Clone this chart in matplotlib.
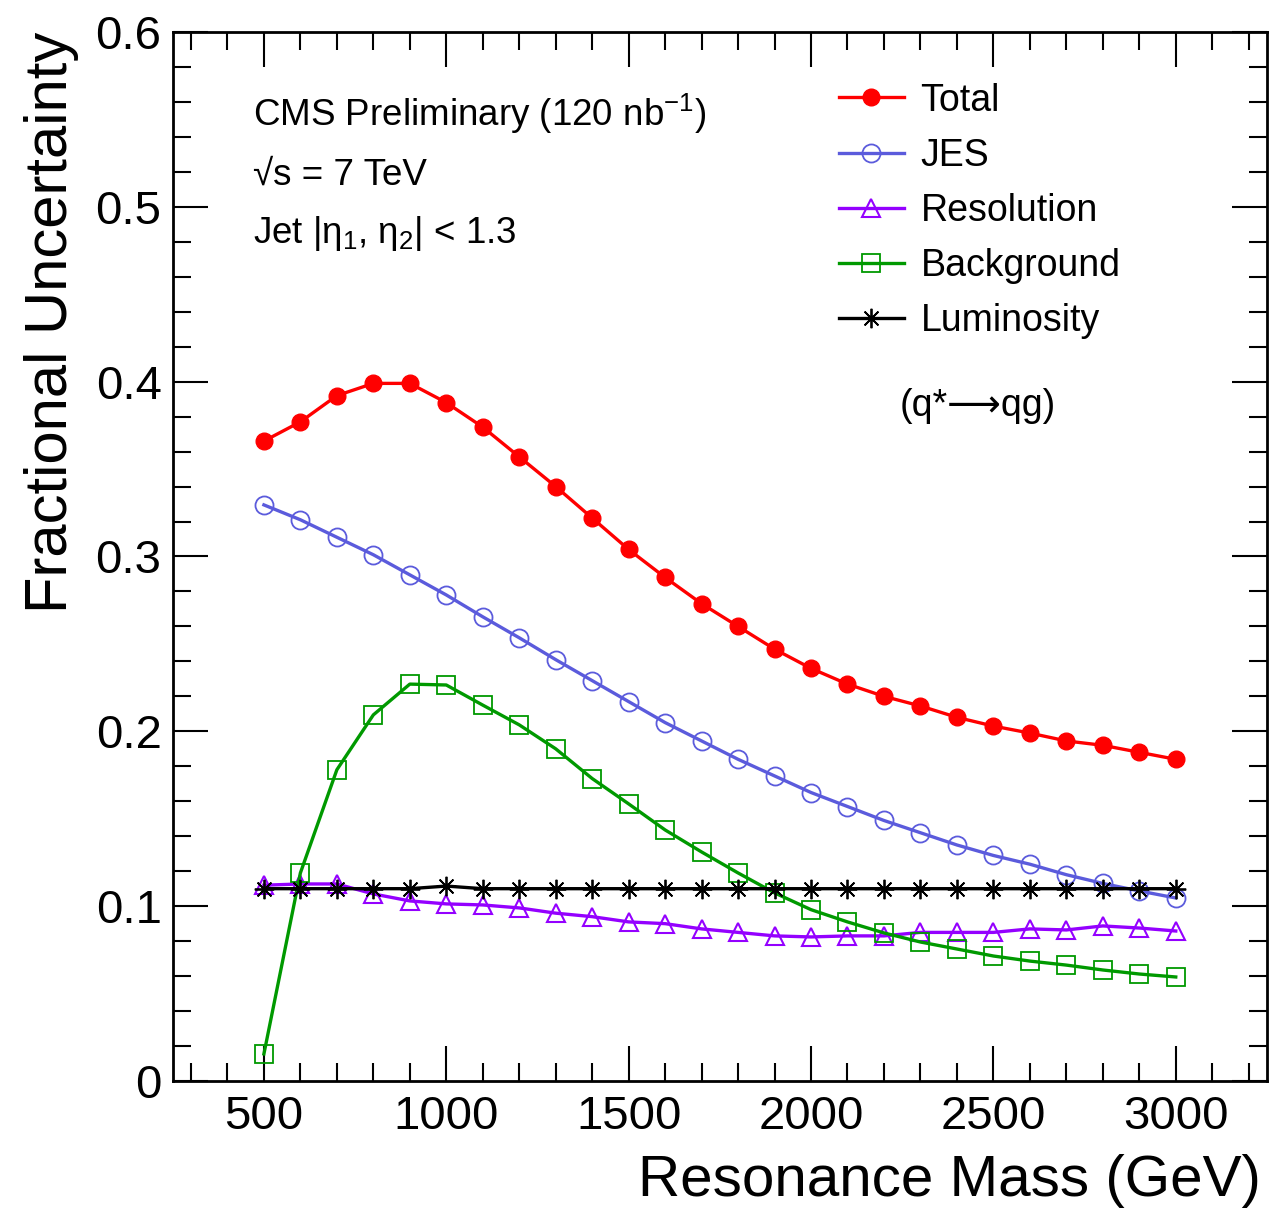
import numpy as np
import matplotlib
matplotlib.use("Agg")
import matplotlib.pyplot as plt

plt.rcParams['font.family'] = ['Liberation Sans', 'DejaVu Sans']
plt.rcParams['mathtext.fontset'] = 'custom'
plt.rcParams['mathtext.rm'] = 'Liberation Sans'
plt.rcParams['mathtext.it'] = 'Liberation Sans'
plt.rcParams['mathtext.bf'] = 'Liberation Sans:bold'

# resonance mass points (GeV)
mass = [500, 600, 700, 800, 900, 1000, 1100, 1200, 1300, 1400, 1500, 1600, 1700,
        1800, 1900, 2000, 2100, 2200, 2300, 2400, 2500, 2600, 2700, 2800, 2900, 3000]

total = [0.366, 0.377, 0.392, 0.399, 0.399, 0.388, 0.374, 0.357, 0.340, 0.322, 0.304,
         0.288, 0.273, 0.260, 0.247, 0.236, 0.227, 0.220, 0.2145, 0.208, 0.203, 0.199,
         0.1945, 0.192, 0.188, 0.184]
jes = [0.3295, 0.321, 0.311, 0.301, 0.2895, 0.278, 0.2655, 0.2535, 0.241, 0.229, 0.217,
       0.205, 0.1945, 0.184, 0.1745, 0.165, 0.157, 0.149, 0.142, 0.135, 0.129, 0.124,
       0.118, 0.113, 0.1087, 0.1047]
resolution = [0.112, 0.1127, 0.1127, 0.107, 0.103, 0.1013, 0.1007, 0.099, 0.096, 0.094,
              0.091, 0.090, 0.087, 0.085, 0.083, 0.0824, 0.083, 0.083, 0.085, 0.085,
              0.085, 0.087, 0.0864, 0.0887, 0.0875, 0.0858]
background = [0.0155, 0.119, 0.178, 0.2094, 0.227, 0.2265, 0.215, 0.2037, 0.190, 0.173,
              0.1585, 0.1436, 0.131, 0.119, 0.1076, 0.098, 0.091, 0.0847, 0.0795, 0.0755,
              0.0715, 0.0686, 0.0663, 0.0635, 0.0612, 0.0595]
lumi = [0.11, 0.11, 0.11, 0.11, 0.11, 0.1115, 0.11, 0.11, 0.11, 0.11, 0.11, 0.11, 0.11,
        0.11, 0.11, 0.11, 0.11, 0.11, 0.11, 0.11, 0.11, 0.11, 0.11, 0.11, 0.11, 0.11]

fig = plt.figure(figsize=(12.7, 12.1), dpi=100)
ax = fig.add_axes([0.136, 0.1066, 0.8616, 0.867])

lw = 2.4
ax.plot(mass, total, color='#ff0000', lw=lw, marker='o', ms=12, mfc='#ff0000', mec='#ff0000',
        label='Total', zorder=5)
ax.plot(mass, jes, color='#5b5bdc', lw=lw, marker='o', ms=13, mfc='none', mec='#5b5bdc',
        mew=1.3, label='JES', zorder=4)
ax.plot(mass, resolution, color='#9400ff', lw=lw, marker='^', ms=13, mfc='none', mec='#9400ff',
        mew=1.5, label='Resolution', zorder=3)
ax.plot(mass, background, color='#009900', lw=lw, marker='s', ms=12.5, mfc='none', mec='#009900',
        mew=1.3, label='Background', zorder=3)
ax.plot(mass, lumi, color='black', lw=lw, marker=(8, 2, 0), ms=14, mew=1.3,
        label='Luminosity', zorder=4)

ax.set_xlim(250, 3250)
ax.set_ylim(0, 0.6)
ax.set_xticks([500, 1000, 1500, 2000, 2500, 3000])
ax.set_xticks(np.arange(300, 3250, 100), minor=True)
ax.set_yticks([0, 0.1, 0.2, 0.3, 0.4, 0.5, 0.6])
ax.set_yticklabels(['0', '0.1', '0.2', '0.3', '0.4', '0.5', '0.6'])
ax.set_yticks(np.arange(0, 0.601, 0.02), minor=True)

ax.tick_params(which='both', direction='in', top=True, right=True, width=1.5)
ax.tick_params(which='major', length=25)
ax.tick_params(which='minor', length=13)
ax.tick_params(axis='x', which='major', labelsize=34, pad=10)
ax.tick_params(axis='y', which='major', labelsize=34, pad=8)
for s in ax.spines.values():
    s.set_linewidth(2)

ax.set_xlabel('Resonance Mass (GeV)', fontsize=42, ha='right')
ax.xaxis.set_label_coords(0.994, -0.07)
ax.set_ylabel('Fractional Uncertainty', fontsize=43, loc='top', labelpad=12)

ax.text(0.073, 0.922, r'CMS Preliminary (120 nb$^{\mathregular{-1}}$)', transform=ax.transAxes,
        fontsize=26.5, va='center')
ax.text(0.073, 0.863, '\u221as = 7 TeV', transform=ax.transAxes, fontsize=26.5, va='center')
ax.text(0.073, 0.808, r'Jet |$\eta_{1}$, $\eta_{2}$| < 1.3', transform=ax.transAxes,
        fontsize=26.5, va='center')
ax.text(0.736, 0.643, '(q*\u27f6qg)', transform=ax.transAxes, fontsize=27, va='center',
        ha='center')

ax.legend(loc='upper left', bbox_to_anchor=(0.5954, 0.966), frameon=False, fontsize=27,
          handlelength=1.72, handletextpad=0.45, labelspacing=0.51, borderaxespad=0)

fig.savefig('out.png', dpi=100)
